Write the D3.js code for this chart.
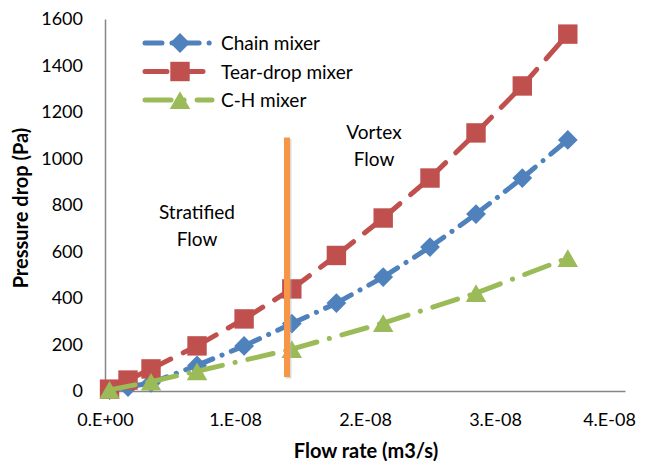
<!DOCTYPE html>
<html>
<head>
<meta charset="utf-8">
<script src="https://cdn.jsdelivr.net/npm/d3@7"></script>
<style>
  body { margin: 0; background: #fff; }
  text { font-family: Lato, "Open Sans", sans-serif; fill: #000; }
</style>
</head>
<body>
<div id="chart"></div>
<script>
// flow rates (m3/s) shared by chain and tear-drop series
var flow = [0.035e-8, 0.177e-8, 0.354e-8, 0.708e-8, 1.07e-8, 1.437e-8, 1.78e-8, 2.14e-8, 2.50e-8, 2.854e-8, 3.21e-8, 3.56e-8];
var chain = [4, 17, 35, 110, 194, 290, 378, 490, 619, 761, 916, 1080];
var tearDrop = [8, 47, 95, 194, 310, 439, 583, 744, 916, 1110, 1312, 1535];
// C-H mixer was measured at fewer flow rates
var chFlow = [0.035e-8, 0.354e-8, 0.708e-8, 1.437e-8, 2.14e-8, 2.854e-8, 3.56e-8];
var chMixer = [5, 40, 85, 180, 292, 421, 572];

var xTicks = [0, 1e-8, 2e-8, 3e-8, 4e-8];
var xTickLabels = ["0.E+00", "1.E-08", "2.E-08", "3.E-08", "4.E-08"];
var yTicks = [0, 200, 400, 600, 800, 1000, 1200, 1400, 1600];

// orange marker separating the flow regimes
var boundaryX = 1.4e-8;
var boundaryY = [60, 1090];

var svgWidth = 654;
var svgHeight = 464;
var margin = { top: 19, right: 29, bottom: 73, left: 105 };
var width = svgWidth - margin.left - margin.right;
var height = svgHeight - margin.top - margin.bottom;

var svg = d3.select("#chart").append("svg")
  .attr("width", svgWidth)
  .attr("height", svgHeight);

var g = svg.append("g")
  .attr("transform", `translate(${margin.left}, ${margin.top})`);

var xScale = d3.scaleLinear().domain([0, 4e-8]).range([0, width]);
var yScale = d3.scaleLinear().domain([0, 1600]).range([height, 0]);

// axes - just the lines and labels, no tick marks
var xAxis = d3.axisBottom(xScale).tickValues(xTicks)
  .tickFormat((d, i) => xTickLabels[i]).tickSize(0).tickPadding(22);
var yAxis = d3.axisLeft(yScale).tickValues(yTicks)
  .tickFormat(d3.format("d")).tickSize(0).tickPadding(22);

var gx = g.append("g").attr("transform", `translate(0, ${height})`).call(xAxis);
var gy = g.append("g").call(yAxis);
[gx, gy].forEach(function(a) {
  a.select(".domain").attr("stroke", "#868686").attr("stroke-width", 1.5);
  a.selectAll("text").style("font-size", "18px").style("font-family", "Lato, sans-serif").attr("fill", "#000");
});
gx.selectAll(".tick text").filter((d, i) => i === xTicks.length - 1).attr("dx", -16);

var series = [
  { name: "Chain mixer", xs: flow, ys: chain, color: "#4F81BD", marker: "diamond", dash: "17 10 0.1 10" },
  { name: "Tear-drop mixer", xs: flow, ys: tearDrop, color: "#C0504D", marker: "square", dash: "22 14" },
  { name: "C-H mixer", xs: chFlow, ys: chMixer, color: "#9BBB59", marker: "triangle", dash: "26 13 0.1 13" }
];

var symbols = {
  diamond: d3.symbol().type(d3.symbolDiamond2).size(250),
  square: d3.symbol().type(d3.symbolSquare2).size(480),
  triangle: d3.symbol().type(d3.symbolTriangle2).size(300)
};

function drawMarker(sel, s, x, y) {
  var yOff = s.marker === "triangle" ? 3 : 0;
  sel.append("path")
    .attr("d", symbols[s.marker]())
    .attr("transform", `translate(${x}, ${y + yOff})`)
    .attr("fill", s.color);
}

series.forEach(function(s) {
  var pts = s.xs.map((x, i) => [xScale(x), yScale(s.ys[i])]);
  // every segment restarts its dash pattern at the marker
  for (var i = 0; i < pts.length - 1; i++) {
    g.append("line")
      .attr("x1", pts[i][0]).attr("y1", pts[i][1])
      .attr("x2", pts[i + 1][0]).attr("y2", pts[i + 1][1])
      .attr("stroke", s.color)
      .attr("stroke-width", 5)
      .attr("stroke-linecap", "round")
      .attr("stroke-dasharray", s.dash);
  }
  pts.forEach(p => drawMarker(g, s, p[0], p[1]));
});

// vertical regime boundary
g.append("line")
  .attr("x1", xScale(boundaryX) + 1.5).attr("x2", xScale(boundaryX) + 1.5)
  .attr("y1", yScale(boundaryY[1]) + 1.5).attr("y2", yScale(boundaryY[0]) + 1.5)
  .attr("stroke", "#bbb").attr("stroke-width", 6).attr("opacity", 0.5);
g.append("line")
  .attr("x1", xScale(boundaryX)).attr("x2", xScale(boundaryX))
  .attr("y1", yScale(boundaryY[1])).attr("y2", yScale(boundaryY[0]))
  .attr("stroke", "#F79646").attr("stroke-width", 6);

// regime labels
function label(lines, x, y) {
  var t = svg.append("text").attr("text-anchor", "middle").style("font-size", "19px");
  lines.forEach((l, i) => t.append("tspan").attr("x", x).attr("y", y + i * 27).text(l));
}
label(["Stratified", "Flow"], 197, 219);
label(["Vortex", "Flow"], 374, 139);

// legend
var legend = svg.append("g");
series.forEach(function(s, i) {
  var y = 43 + i * 28.5;
  var row = legend.append("g");
  row.append("line")
    .attr("x1", 145).attr("x2", 212).attr("y1", y).attr("y2", y)
    .attr("stroke", s.color).attr("stroke-width", 5)
    .attr("stroke-linecap", "round").attr("stroke-dasharray", s.dash);
  drawMarker(row, s, 180, y);
  row.append("text").attr("x", 221).attr("y", y + 7)
    .style("font-size", "19px").text(s.name);
});

// axis titles
svg.append("text")
  .attr("transform", "rotate(-90)")
  .attr("x", -208)
  .attr("y", 28)
  .attr("text-anchor", "middle")
  .style("font-size", "20px").style("font-weight", "bold")
  .text("Pressure drop (Pa)");

svg.append("text")
  .attr("x", 366).attr("y", 458)
  .attr("text-anchor", "middle")
  .style("font-size", "20px").style("font-weight", "bold")
  .text("Flow rate (m3/s)");
</script>
</body>
</html>
